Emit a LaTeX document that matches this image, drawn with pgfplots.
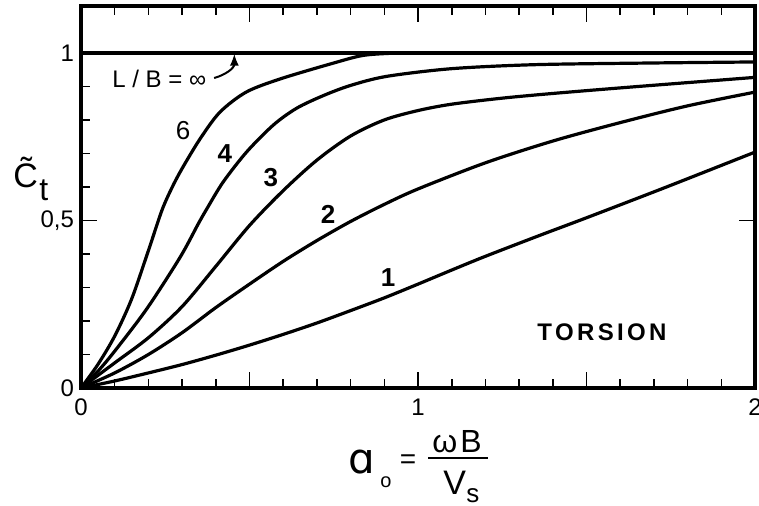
\documentclass[border=0pt]{standalone}
\usepackage{fontspec}
\setmainfont{Liberation Sans}
\newfontfamily\djv{DejaVu Sans}
\usepackage{pgfplots}
\pgfplotsset{compat=1.18}
\tikzset{curve/.style={line width=1.6pt, black, smooth, mark=none}}
\begin{document}
\begin{tikzpicture}
\begin{axis}[
  at={(0,0)}, anchor=south west,
  scale only axis, width=337pt, height=191pt,
  xmin=0, xmax=2, ymin=0, ymax=1.14,
  axis line style={line width=1.8pt},
  xtick={0,0.5,1,1.5,2}, xticklabels={0,,1,,2},
  ytick={0,0.5,1}, yticklabels={0,{0,5},1},
  minor x tick num=4, minor y tick num=4,
  ytick pos=left,
  major tick length=8pt, minor tick length=4.5pt,
  tick style={line width=0.8pt, black},
  tick label style={font=\fontsize{12}{14}\selectfont},
  xticklabel style={yshift=-2pt},
  clip=false,
]
% L/B = infinity
\addplot[black, line width=1.8pt, sharp plot, mark=none] coordinates {(0,1) (2,1)};
% L/B = 6
\addplot[curve] coordinates {(0,0) (0.05,0.07) (0.1,0.155) (0.15,0.265) (0.2,0.41) (0.24,0.53) (0.27,0.598) (0.3,0.655) (0.353,0.743) (0.412,0.823) (0.49,0.883) (0.59,0.922) (0.74,0.967) (0.84,0.993) (0.95,1.0)};
% L/B = 4
\addplot[curve] coordinates {(0,0) (0.05,0.05) (0.1,0.11) (0.195,0.236) (0.294,0.39) (0.348,0.49) (0.373,0.534) (0.422,0.615) (0.492,0.705) (0.571,0.785) (0.64,0.835) (0.72,0.873) (0.8,0.903) (0.907,0.93) (1.1,0.953) (1.35,0.965) (1.7,0.97) (2.0,0.973)};
% L/B = 3
\addplot[curve] coordinates {(0,0) (0.1,0.075) (0.2,0.15) (0.3,0.243) (0.4,0.363) (0.5,0.485) (0.6,0.589) (0.7,0.68) (0.8,0.752) (0.9,0.8) (1.0,0.828) (1.1,0.847) (1.25,0.865) (1.4,0.879) (1.63,0.898) (2.0,0.927)};
% L/B = 2
\addplot[curve] coordinates {(0,0) (0.1,0.045) (0.2,0.1) (0.3,0.165) (0.4,0.24) (0.5,0.31) (0.6,0.378) (0.7,0.44) (0.8,0.497) (0.9,0.548) (1.0,0.594) (1.2,0.672) (1.4,0.737) (1.6,0.792) (1.8,0.842) (2.0,0.883)};
% L/B = 1
\addplot[curve] coordinates {(0,0) (0.1,0.021) (0.2,0.045) (0.3,0.07) (0.4,0.098) (0.5,0.128) (0.6,0.16) (0.7,0.194) (0.8,0.231) (0.9,0.269) (1.0,0.31) (1.1,0.352) (1.2,0.393) (1.36,0.455) (1.5,0.508) (1.73,0.597) (2.0,0.704)};

\node[font=\fontsize{12}{14}\selectfont, anchor=west, inner sep=0pt] at (axis cs:0.092,0.922) {L / B = ∞};
\draw[line width=1pt, -latex] (axis cs:0.395,0.925) .. controls (axis cs:0.43,0.935) and (axis cs:0.455,0.955) .. (axis cs:0.455,0.997);
\node[font=\fontsize{13}{15}\selectfont] at (axis cs:0.303,0.767) {6};
\node[font=\fontsize{13}{15}\selectfont\bfseries] at (axis cs:0.427,0.699) {4};
\node[font=\fontsize{13}{15}\selectfont\bfseries] at (axis cs:0.563,0.629) {3};
\node[font=\fontsize{13}{15}\selectfont\bfseries] at (axis cs:0.733,0.519) {2};
\node[font=\fontsize{13}{15}\selectfont\bfseries] at (axis cs:0.911,0.331) {1};
\node[font=\fontsize{12}{14}\selectfont\bfseries\addfontfeatures{LetterSpace=14}] at (axis cs:1.546,0.167) {TORSION};
\draw[line width=0.8pt] (axis cs:2,0.5) -- ++(-8pt,0);
\end{axis}
% x label: a_o = omega B / V_s
\node[font=\djv\fontsize{21}{21}\selectfont, anchor=base west, inner sep=0pt] at (133.5pt,-42.5pt) {ɑ};
\node[font=\fontsize{10}{10}\selectfont, anchor=base west, inner sep=0pt] at (149.5pt,-49.5pt) {o};
\node[font=\fontsize{14}{14}\selectfont, anchor=center, inner sep=0pt] at (163.5pt,-36.75pt) {=};
\node[font=\fontsize{16}{16}\selectfont, anchor=base, inner sep=0pt] at (188pt,-32pt) {ω\hspace{1.5pt}B};
\draw[line width=1pt] (173.5pt,-35pt) -- (203.5pt,-35pt);
\node[font=\fontsize{17}{17}\selectfont, anchor=base west, inner sep=0pt] at (181pt,-53pt) {V};
\node[font=\fontsize{13}{13}\selectfont, anchor=base west, inner sep=0pt] at (192.5pt,-57pt) {s};
% y label: C tilde t
\node[font=\fontsize{17}{17}\selectfont, anchor=base west, inner sep=0pt] at (-34pt,100.5pt) {\~{C}};
\node[font=\fontsize{16}{16}\selectfont, anchor=base west, inner sep=0pt] at (-21pt,94pt) {t};
\pgfresetboundingbox
\useasboundingbox (-40.5pt,-58.5pt) rectangle (339pt,194pt);
\end{tikzpicture}
\end{document}
